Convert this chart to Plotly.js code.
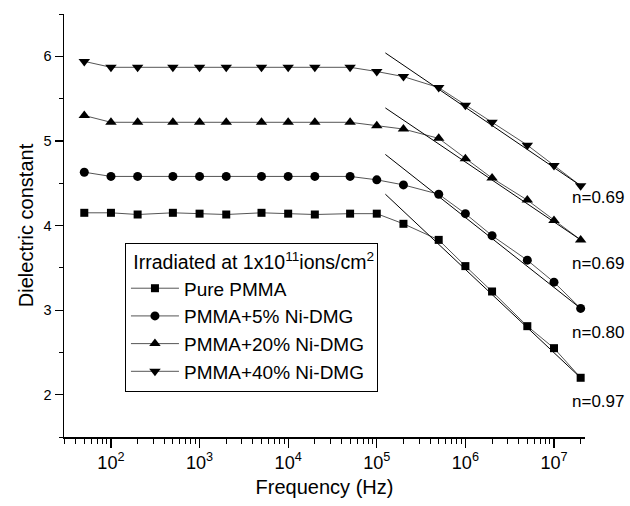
<!DOCTYPE html>
<html>
<head>
<meta charset="utf-8">
<script src="https://cdn.plot.ly/plotly-3.0.1.min.js"></script>
<style>html,body{margin:0;padding:0;background:#fff;}#chart{width:630px;height:506px;}</style>
</head>
<body>
<div id="chart"></div>
<script>
// Data
const freq = [50,100,200,500,1e3,2e3,5e3,1e4,2e4,5e4,1e5,2e5,5e5,1e6,2e6,5e6,1e7,2e7];
const purePMMA = [4.15,4.15,4.13,4.15,4.14,4.13,4.15,4.14,4.13,4.14,4.14,4.02,3.83,3.52,3.22,2.81,2.55,2.20];
const ni5 = [4.63,4.58,4.58,4.58,4.58,4.58,4.58,4.58,4.58,4.58,4.54,4.48,4.37,4.14,3.88,3.59,3.33,3.02];
const ni20 = [5.30,5.22,5.22,5.22,5.22,5.22,5.22,5.22,5.22,5.22,5.18,5.14,5.03,4.79,4.56,4.30,4.06,3.83];
const ni40 = [5.94,5.87,5.87,5.87,5.87,5.87,5.87,5.87,5.87,5.87,5.82,5.76,5.63,5.42,5.22,4.95,4.71,4.47];

const fitFreq = [1.25e5, 2e7];
const fitPure = [4.37, 2.20];
const fit5 = [4.84, 3.02];
const fit20 = [5.39, 3.83];
const fit40 = [6.04, 4.47];

const seriesNames = ["Pure PMMA","PMMA+5% Ni-DMG","PMMA+20% Ni-DMG","PMMA+40% Ni-DMG"];
const nLabels = ["n=0.69","n=0.69","n=0.80","n=0.97"];

const FONT = "Arial, 'Liberation Sans', Helvetica, sans-serif";
const symbols = ["square","circle","triangle-up","triangle-down"];
const sizes = [8,9,10,10];
const data = [purePMMA, ni5, ni20, ni40];
const fits = [fitPure, fit5, fit20, fit40];

const traces = [];
data.forEach((ys,i)=>{
  traces.push({
    x: freq, y: ys, name: seriesNames[i], type:'scatter', mode:'lines+markers',
    line:{color:'#555', width:1},
    marker:{symbol:symbols[i], size:sizes[i], color:'#000'},
    cliponaxis:false
  });
});
fits.forEach((ys,i)=>{
  traces.push({
    x: fitFreq, y: ys, type:'scatter', mode:'lines', showlegend:false,
    line:{color:'#000', width:1}, hoverinfo:'skip'
  });
});

const labelY = [0.567, 0.411, 0.248, 0.083];
const annotations = nLabels.map((t,i)=>({
  text:t, xref:'paper', yref:'paper', x:0.971, y:labelY[i],
  xanchor:'left', yanchor:'middle', showarrow:false,
  font:{family:FONT, size:17, color:'#000'}
}));

const layout = {
  width:630, height:506,
  margin:{l:64, r:45, t:14, b:69},
  paper_bgcolor:'#fff', plot_bgcolor:'#fff',
  font:{family:FONT, color:'#000'},
  showlegend:true,
  legend:{
    x:0.117, y:0.4586, xanchor:'left', yanchor:'top',
    bordercolor:'#000', borderwidth:1, bgcolor:'#fff',
    font:{family:FONT, size:19, color:'#000'},
    itemwidth:48,
    title:{text:'\u00a0Irradiated at 1x10<sup>11</sup>ions/cm<sup>2</sup>', font:{family:FONT, size:19.5, color:'#000'}},
    tracegroupgap:0
  },
  xaxis:{
    type:'log', range:[1.47, 7.35], dtick:1, exponentformat:'power',
    showline:true, linecolor:'#000', linewidth:1.5, mirror:false,
    ticks:'outside', ticklen:9, tickwidth:1.2, tickcolor:'#000',
    minor:{ticks:'outside', ticklen:5, tickwidth:1, tickcolor:'#000', dtick:'D1'},
    showgrid:false, zeroline:false,
    tickfont:{family:FONT, size:14.5, color:'#000'},
    title:{text:'Frequency (Hz)', font:{family:FONT, size:20, color:'#000'}, standoff:8}
  },
  yaxis:{
    range:[1.5, 6.5], dtick:1, tick0:0,
    showline:true, linecolor:'#000', linewidth:1.5,
    ticks:'outside', ticklen:8, tickwidth:1.2, tickcolor:'#000',
    minor:{ticks:'outside', ticklen:4, tickwidth:1, tickcolor:'#000', dtick:0.5},
    showgrid:false, zeroline:false,
    tickfont:{family:FONT, size:14.5, color:'#000'},
    title:{text:'Dielectric constant', font:{family:FONT, size:20, color:'#000'}, standoff:4}
  },
  annotations: annotations
};

Plotly.newPlot('chart', traces, layout, {displayModeBar:false, staticPlot:true});
</script>
</body>
</html>
